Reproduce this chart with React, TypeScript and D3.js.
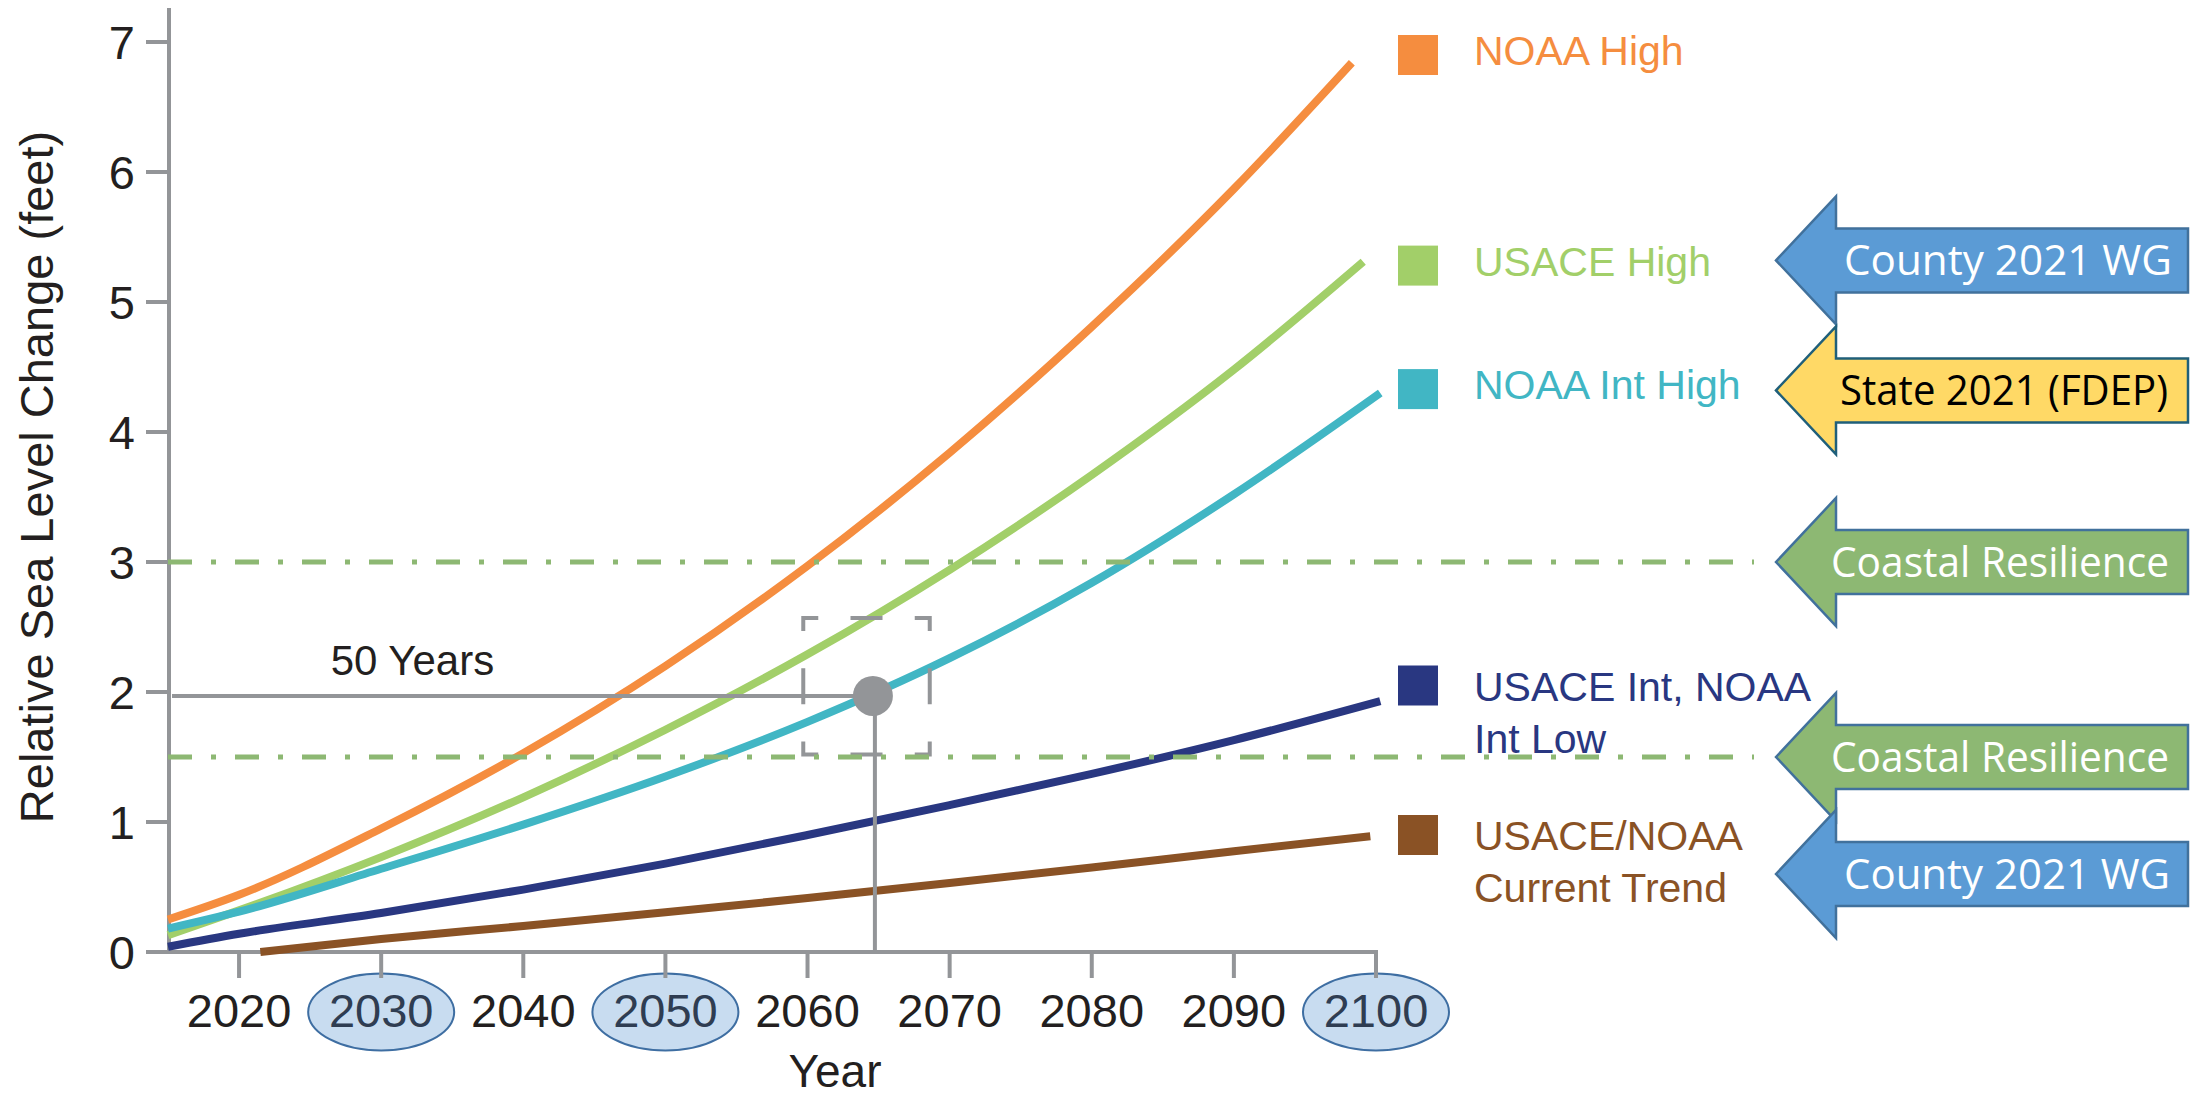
import React, { useEffect, useRef } from "react";
import * as d3 from "d3";

// Sea level change scenarios (feet)
const noaaHigh: [number, number][] = [
  [2015, 0.25], [2020, 0.44], [2030, 0.95], [2040, 1.53], [2050, 2.2],
  [2060, 2.97], [2070, 3.84], [2080, 4.81], [2090, 5.87], [2098.3, 6.84],
];
const usaceHigh: [number, number][] = [
  [2015, 0.13], [2020, 0.32], [2030, 0.73], [2040, 1.19], [2050, 1.71],
  [2060, 2.29], [2070, 2.94], [2080, 3.67], [2090, 4.48], [2099.1, 5.31],
];
const noaaIntHigh: [number, number][] = [
  [2015, 0.18], [2020, 0.31], [2030, 0.64], [2040, 0.98], [2050, 1.35],
  [2060, 1.77], [2070, 2.26], [2080, 2.84], [2090, 3.52], [2100.3, 4.3],
];
const usaceInt: [number, number][] = [
  [2015, 0.04], [2020, 0.14], [2030, 0.3], [2040, 0.48], [2050, 0.68],
  [2060, 0.9], [2070, 1.13], [2080, 1.37], [2090, 1.63], [2100.3, 1.93],
];
const currentTrend: [number, number][] = [
  [2021.5, 0.0], [2030, 0.1], [2040, 0.2], [2050, 0.305], [2060, 0.415],
  [2070, 0.53], [2080, 0.65], [2090, 0.775], [2099.6, 0.89],
];

const yearTicks = [2020, 2030, 2040, 2050, 2060, 2070, 2080, 2090, 2100];
const circledYears = [2030, 2050, 2100];
const feetTicks = [0, 1, 2, 3, 4, 5, 6, 7];

const scenarios = [
  { lines: ["NOAA High"], color: "#F58D3F", data: noaaHigh, legendAt: 6.9 },
  { lines: ["USACE High"], color: "#A2CF69", data: usaceHigh, legendAt: 5.28 },
  { lines: ["NOAA Int High"], color: "#41B6C4", data: noaaIntHigh, legendAt: 4.33 },
  { lines: ["USACE Int, NOAA", "Int Low"], color: "#293781", data: usaceInt, legendAt: 2.05 },
  { lines: ["USACE/NOAA", "Current Trend"], color: "#8A5225", data: currentTrend, legendAt: 0.9 },
];

// Threshold lines and the planning arrows on the right
const thresholds = [3, 1.5];
const arrowLabels = ["County 2021 WG", "State 2021 (FDEP)", "Coastal Resilience", "Coastal Resilience", "County 2021 WG"];
const arrowLevels = [5.32, 4.32, 3, 1.5, 0.6];
const arrowFills = ["#5B9BD5", "#FFD966", "#8DB873", "#8DB873", "#5B9BD5"];
const arrowStrokes = ["#41719C", "#1F5F7A", "#41719C", "#41719C", "#41719C"];
const arrowTextColors = ["#FFFFFF", "#000000", "#FFFFFF", "#FFFFFF", "#FFFFFF"];
const arrowTextWidths = [328, 328, 338, 338, 326];

// 50 year annotation
const markerYear = 2064.6;
const markerValue = 1.97;
const markerLabel = "50 Years";
const markerLabelAt = [2032.2, 2.13];
const markerBox = { x0: 2059.7, x1: 2068.6, y0: 1.52, y1: 2.57 };

const AXIS = "#939598";
const INK = "#231F20";

const SeaLevelChart = () => {
  const svgRef = useRef(null);

  useEffect(() => {
    const svg = d3.select(svgRef.current);
    svg.selectAll("*").remove();

    const x = d3.scaleLinear().domain([2015, 2100]).range([168, 1376]);
    const y = d3.scaleLinear().domain([0, 7]).range([952, 42]);

    const line = d3
      .line<[number, number]>()
      .x((d) => x(d[0]))
      .y((d) => y(d[1]))
      .curve(d3.curveMonotoneX);

    // circled year highlights
    svg
      .append("g")
      .selectAll("ellipse")
      .data(circledYears)
      .join("ellipse")
      .attr("cx", (d) => x(d))
      .attr("cy", 1012)
      .attr("rx", 73)
      .attr("ry", 38.5)
      .attr("fill", "#C8DCF0")
      .attr("stroke", "#3E6EA2")
      .attr("stroke-width", 2);

    // x axis
    const xg = svg.append("g");
    xg.append("line")
      .attr("x1", x(2015) - 2)
      .attr("x2", x(2100) + 2)
      .attr("y1", y(0))
      .attr("y2", y(0))
      .attr("stroke", AXIS)
      .attr("stroke-width", 4);
    xg.selectAll("line.tick")
      .data(yearTicks)
      .join("line")
      .attr("class", "tick")
      .attr("x1", (d) => x(d))
      .attr("x2", (d) => x(d))
      .attr("y1", y(0))
      .attr("y2", y(0) + 26)
      .attr("stroke", AXIS)
      .attr("stroke-width", 4);
    xg.selectAll("text")
      .data(yearTicks)
      .join("text")
      .attr("x", (d) => x(d))
      .attr("y", 1027)
      .attr("text-anchor", "middle")
      .attr("font-family", "'Liberation Sans', Arial, sans-serif")
      .attr("font-size", 47)
      .attr("fill", (d) => (circledYears.includes(d) ? "#2F3D52" : INK))
      .text((d) => d);

    xg.append("text")
      .attr("x", 835)
      .attr("y", 1087)
      .attr("text-anchor", "middle")
      .attr("font-family", "'Liberation Sans', Arial, sans-serif")
      .attr("font-size", 46)
      .attr("fill", INK)
      .text("Year");

    // y axis
    const yg = svg.append("g");
    yg.append("line")
      .attr("x1", x(2015) + 1)
      .attr("x2", x(2015) + 1)
      .attr("y1", 8)
      .attr("y2", y(0) + 2)
      .attr("stroke", AXIS)
      .attr("stroke-width", 4);
    yg.selectAll("line.tick")
      .data(feetTicks)
      .join("line")
      .attr("class", "tick")
      .attr("x1", x(2015) - 22)
      .attr("x2", x(2015))
      .attr("y1", (d) => y(d))
      .attr("y2", (d) => y(d))
      .attr("stroke", AXIS)
      .attr("stroke-width", 4);
    yg.selectAll("text")
      .data(feetTicks)
      .join("text")
      .attr("x", 135)
      .attr("y", (d) => y(d) + 17)
      .attr("text-anchor", "end")
      .attr("font-family", "'Liberation Sans', Arial, sans-serif")
      .attr("font-size", 47)
      .attr("fill", INK)
      .text((d) => d);

    yg.append("text")
      .attr("transform", "translate(53,477) rotate(-90)")
      .attr("text-anchor", "middle")
      .attr("font-family", "'Liberation Sans', Arial, sans-serif")
      .attr("font-size", 47)
      .attr("fill", INK)
      .text("Relative Sea Level Change (feet)");

    // scenario curves
    svg
      .append("g")
      .selectAll("path")
      .data(scenarios)
      .join("path")
      .attr("fill", "none")
      .attr("stroke", (d) => d.color)
      .attr("stroke-width", 8)
      .attr("d", (d) => line(d.data));

    // 50 year annotation
    const ann = svg.append("g");
    const mx = x(markerYear);
    const my = y(markerValue);
    ann.append("line")
      .attr("x1", x(2015) + 4)
      .attr("x2", mx)
      .attr("y1", my)
      .attr("y2", my)
      .attr("stroke", AXIS)
      .attr("stroke-width", 4);
    ann.append("line")
      .attr("x1", mx + 2)
      .attr("x2", mx + 2)
      .attr("y1", my)
      .attr("y2", y(0) - 2)
      .attr("stroke", AXIS)
      .attr("stroke-width", 4);
    ann.append("text")
      .attr("x", x(markerLabelAt[0]))
      .attr("y", y(markerLabelAt[1]))
      .attr("text-anchor", "middle")
      .attr("font-family", "'Liberation Sans', Arial, sans-serif")
      .attr("font-size", 42)
      .attr("fill", INK)
      .text(markerLabel);

    // dashed bracket box around the marker
    const bx0 = x(markerBox.x0);
    const bx1 = x(markerBox.x1);
    const by0 = y(markerBox.y1);
    const by1 = y(markerBox.y0);
    const arm = 15;
    const bcx = (bx0 + bx1) / 2;
    const bcy = (by0 + by1) / 2;
    const boxPath = [
      `M${bx0},${by0 + arm - 2}V${by0}H${bx0 + arm}`,
      `M${bx1 - arm},${by0}H${bx1}V${by0 + arm - 2}`,
      `M${bx1},${by1 - arm + 2}V${by1}H${bx1 - arm}`,
      `M${bx0 + arm},${by1}H${bx0}V${by1 - arm + 2}`,
      `M${bcx - 16},${by0}H${bcx + 16}`,
      `M${bcx - 16},${by1}H${bcx + 16}`,
      `M${bx0},${bcy - 18}V${bcy + 18}`,
      `M${bx1},${bcy - 18}V${bcy + 18}`,
    ].join("");
    ann.append("path")
      .attr("d", boxPath)
      .attr("fill", "none")
      .attr("stroke", AXIS)
      .attr("stroke-width", 4);

    ann.append("circle")
      .attr("cx", mx)
      .attr("cy", my)
      .attr("r", 20)
      .attr("fill", AXIS);

    // threshold dash-dot lines
    svg
      .append("g")
      .selectAll("line")
      .data(thresholds)
      .join("line")
      .attr("x1", x(2015))
      .attr("x2", 1754)
      .attr("y1", (d) => y(d))
      .attr("y2", (d) => y(d))
      .attr("stroke", "#8DB873")
      .attr("stroke-width", 5)
      .attr("stroke-dasharray", "24 19 5 19");

    // legend
    const lg = svg
      .append("g")
      .selectAll("g")
      .data(scenarios)
      .join("g")
      .attr("transform", (d) => `translate(1398,${y(d.legendAt) - 20})`);
    lg.append("rect")
      .attr("width", 40)
      .attr("height", 40)
      .attr("fill", (d) => d.color);
    lg.each(function (d) {
      const g = d3.select(this);
      const top = d.lines.length > 1 ? 35 : 30;
      d.lines.forEach((t, i) => {
        g.append("text")
          .attr("x", 76)
          .attr("y", top + i * 52)
          .attr("font-family", "'Liberation Sans', Arial, sans-serif")
          .attr("font-size", 41)
          .attr("fill", d.color)
          .text(t);
      });
    });

    // planning arrows
    const tipX = 1776;
    const backX = 1836;
    const rightX = 2188;
    const headHalf = 64;
    const bodyHalf = 32;
    const ag = svg
      .append("g")
      .selectAll("g")
      .data(arrowLabels)
      .join("g")
      .attr("transform", (_, i) => `translate(0,${y(arrowLevels[i])})`);
    ag.append("path")
      .attr(
        "d",
        `M${tipX},0L${backX},${-headHalf}V${-bodyHalf}H${rightX}V${bodyHalf}H${backX}V${headHalf}Z`,
      )
      .attr("fill", (_, i) => arrowFills[i])
      .attr("stroke", (_, i) => arrowStrokes[i])
      .attr("stroke-width", 2.5);
    ag.append("text")
      .attr("x", (d) => (d === "Coastal Resilience" ? 1831 : d.startsWith("State") ? 1840 : 1844))
      .attr("y", 15)
      .attr("font-family", "'Open Sans', 'Noto Sans', sans-serif")
      .attr("font-size", 42)
      .attr("textLength", (_, i) => arrowTextWidths[i])
      .attr("lengthAdjust", "spacingAndGlyphs")
      .attr("fill", (_, i) => arrowTextColors[i])
      .text((d) => d);
  }, []);

  return (
    <svg
      ref={svgRef}
      width={2192}
      height={1097}
      style={{ position: "absolute", left: 0, top: 0, background: "#fff" }}
    />
  );
};

export default function App() {
  return <SeaLevelChart />;
}
